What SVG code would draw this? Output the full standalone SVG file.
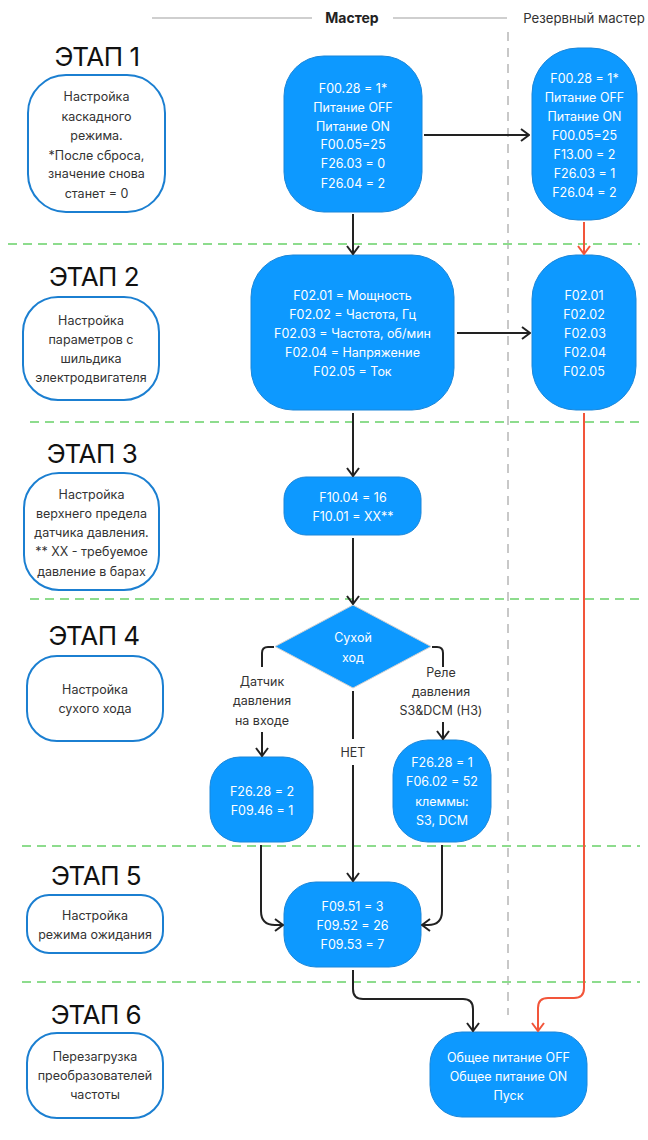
<svg xmlns="http://www.w3.org/2000/svg" width="648" height="1140" viewBox="0 0 648 1140">
<style>
.title{font-family:Inter,"Noto Sans",sans-serif;font-size:26px;fill:#111;text-anchor:middle;letter-spacing:-0.5px}
.lbl{fill:#fff;stroke:#1b7fd1;stroke-width:2}
.lt{font-family:Inter,"Noto Sans",sans-serif;font-size:12.5px;fill:#333;text-anchor:middle}
.box{fill:#0d99ff;stroke:#1a86d9;stroke-width:1}
.bt{font-family:Inter,"Noto Sans",sans-serif;font-size:12.5px;fill:#fff;text-anchor:middle}
.ct{font-family:Inter,"Noto Sans",sans-serif;font-size:12.5px;fill:#333;text-anchor:middle}
.green{stroke:#8ddc8d;stroke-width:2;stroke-dasharray:9 6;fill:none}
.grey{stroke:#c8c8c8;stroke-width:2;stroke-dasharray:9 7;fill:none}
.c{stroke:#222;stroke-width:2;fill:none}
.r{stroke:#f2553a;stroke-width:2;fill:none}
</style>
<defs>
<marker id="ah" viewBox="0 0 10 14" refX="9" refY="7" markerWidth="10" markerHeight="14" markerUnits="userSpaceOnUse" orient="auto">
<path d="M1,1 L9,7 L1,13" fill="none" stroke="#222" stroke-width="2"/>
</marker>
<marker id="ahr" viewBox="0 0 10 14" refX="9" refY="7" markerWidth="10" markerHeight="14" markerUnits="userSpaceOnUse" orient="auto">
<path d="M1,1 L9,7 L1,13" fill="none" stroke="#f2553a" stroke-width="2"/>
</marker>
</defs>
<rect width="648" height="1140" fill="#fff"/>
<g id="header">
<line x1="152" y1="18" x2="312" y2="18" stroke="#cfcfcf" stroke-width="2"/>
<line x1="393" y1="18" x2="507" y2="18" stroke="#cfcfcf" stroke-width="2"/>
<text x="352" y="23" font-family="Inter,'Noto Sans',sans-serif" font-size="14" font-weight="bold" fill="#222" text-anchor="middle">Мастер</text>
<text x="584" y="23" font-family="Inter,'Noto Sans',sans-serif" font-size="13.2" fill="#333" text-anchor="middle">Резервный мастер</text>
</g>
<g id="separators">
<line class="grey" x1="508" y1="32" x2="508" y2="1015"/>
<line class="green" x1="8" y1="244" x2="640" y2="244"/>
<line class="green" x1="30" y1="422" x2="640" y2="422"/>
<line class="green" x1="30" y1="599" x2="640" y2="599"/>
<line class="green" x1="22" y1="846" x2="640" y2="846"/>
<line class="green" x1="22" y1="982" x2="640" y2="982"/>
</g>
<g id="stage1">
<text class="title" x="97" y="66">ЭТАП 1</text>
<rect class="lbl" x="28" y="75" width="137" height="137" rx="38"/>
<text class="lt"><tspan x="96.5" y="101">Настройка</tspan><tspan x="96.5" y="120.5">каскадного</tspan><tspan x="96.5" y="140">режима.</tspan><tspan x="96.5" y="159.5">*После сброса,</tspan><tspan x="96.5" y="178">значение снова</tspan><tspan x="96.5" y="197.5">станет = 0</tspan></text>
</g>
<g id="stage2">
<text class="title" x="94" y="286">ЭТАП 2</text>
<rect class="lbl" x="23" y="297" width="136" height="103" rx="35"/>
<text class="lt"><tspan x="91" y="324.5">Настройка</tspan><tspan x="91" y="343.5">параметров с</tspan><tspan x="91" y="362.5">шильдика</tspan><tspan x="91" y="381.5">электродвигателя</tspan></text>
</g>
<g id="stage3">
<text class="title" x="92" y="463">ЭТАП 3</text>
<rect class="lbl" x="24" y="473" width="135" height="117" rx="35"/>
<text class="lt"><tspan x="91.5" y="498.5">Настройка</tspan><tspan x="91.5" y="517.5">верхнего предела</tspan><tspan x="91.5" y="537">датчика давления.</tspan><tspan x="91.5" y="556">** XX - требуемое</tspan><tspan x="91.5" y="575.5">давление в барах</tspan></text>
</g>
<g id="stage4">
<text class="title" x="94" y="645">ЭТАП 4</text>
<rect class="lbl" x="27" y="656" width="136" height="85" rx="30"/>
<text class="lt"><tspan x="95" y="693.5">Настройка</tspan><tspan x="95" y="713">сухого хода</tspan></text>
</g>
<g id="stage5">
<text class="title" x="96" y="885">ЭТАП 5</text>
<rect class="lbl" x="27" y="895" width="136" height="58" rx="22"/>
<text class="lt"><tspan x="95" y="919.5">Настройка</tspan><tspan x="95" y="938.5">режима ожидания</tspan></text>
</g>
<g id="stage6">
<text class="title" x="96" y="1024">ЭТАП 6</text>
<rect class="lbl" x="27" y="1033" width="136" height="85" rx="30"/>
<text class="lt"><tspan x="95" y="1060.5">Перезагрузка</tspan><tspan x="95" y="1079.5">преобразователей</tspan><tspan x="95" y="1098.5">частоты</tspan></text>
</g>
<g id="m1">
<rect class="box" x="284" y="56" width="138" height="156" rx="40"/>
<text class="bt"><tspan x="353" y="92.5">F00.28 = 1*</tspan><tspan x="353" y="111.5">Питание OFF</tspan><tspan x="353" y="130.5">Питание ON</tspan><tspan x="353" y="149">F00.05=25</tspan><tspan x="353" y="168">F26.03 = 0</tspan><tspan x="353" y="187.5">F26.04 = 2</tspan></text>
</g>
<g id="r1">
<rect class="box" x="532" y="48" width="105" height="172" rx="46"/>
<text class="bt"><tspan x="584.5" y="82.5">F00.28 = 1*</tspan><tspan x="584.5" y="101.5">Питание OFF</tspan><tspan x="584.5" y="120.5">Питание ON</tspan><tspan x="584.5" y="139.5">F00.05=25</tspan><tspan x="584.5" y="158.5">F13.00 = 2</tspan><tspan x="584.5" y="177.5">F26.03 = 1</tspan><tspan x="584.5" y="196.5">F26.04 = 2</tspan></text>
</g>
<g id="m2">
<rect class="box" x="251" y="255" width="203" height="155" rx="42"/>
<text class="bt"><tspan x="352.5" y="299.5">F02.01 = Мощность</tspan><tspan x="352.5" y="318.5">F02.02 = Частота, Гц</tspan><tspan x="352.5" y="337.5">F02.03 = Частота, об/мин</tspan><tspan x="352.5" y="356.5">F02.04 = Напряжение</tspan><tspan x="352.5" y="375.5">F02.05 = Ток</tspan></text>
</g>
<g id="r2">
<rect class="box" x="532" y="255" width="104" height="155" rx="44"/>
<text class="bt"><tspan x="584" y="299.5">F02.01</tspan><tspan x="584" y="318.5">F02.02</tspan><tspan x="585" y="337.5">F02.03</tspan><tspan x="585" y="356.5">F02.04</tspan><tspan x="584" y="375.5">F02.05</tspan></text>
</g>
<g id="m3">
<rect class="box" x="284" y="477" width="137" height="58" rx="22"/>
<text class="bt"><tspan x="353" y="501.5">F10.04 = 16</tspan><tspan x="353" y="521">F10.01 = XX**</tspan></text>
</g>
<g id="d4">
<polygon points="353,605 431,646.5 353,688 275,646.5" fill="#0d99ff" stroke="#d0d0d0" stroke-width="1"/>
<text class="bt"><tspan x="353" y="641.5">Сухой</tspan><tspan x="353" y="661.5">ход</tspan></text>
</g>
<g id="m4a">
<rect class="box" x="210" y="757" width="103" height="85" rx="30"/>
<text class="bt"><tspan x="262" y="795.5">F26.28 = 2</tspan><tspan x="262" y="814.5">F09.46 = 1</tspan></text>
</g>
<g id="m4b">
<rect class="box" x="393" y="740" width="98" height="102" rx="35"/>
<text class="bt"><tspan x="442" y="766.5">F26.28 = 1</tspan><tspan x="442" y="786">F06.02 = 52</tspan><tspan x="442" y="805.5">клеммы:</tspan><tspan x="442" y="825">S3, DCM</tspan></text>
</g>
<g id="m5">
<rect class="box" x="284" y="882" width="137" height="85" rx="32"/>
<text class="bt"><tspan x="352.5" y="910.5">F09.51 = 3</tspan><tspan x="352.5" y="929.5">F09.52 = 26</tspan><tspan x="352.5" y="948.5">F09.53 = 7</tspan></text>
</g>
<g id="m6">
<rect class="box" x="430" y="1032" width="157" height="85" rx="32"/>
<text class="bt"><tspan x="508.5" y="1061.5">Общее питание OFF</tspan><tspan x="508.5" y="1080.5">Общее питание ON</tspan><tspan x="508.5" y="1099.5">Пуск</tspan></text>
</g>
<g id="connectors">
<path class="c" d="M424,135 H529" marker-end="url(#ah)"/>
<path class="c" d="M353,214 V254" marker-end="url(#ah)"/>
<path class="r" d="M584,222 V254" marker-end="url(#ahr)"/>
<path class="c" d="M457,333 H530" marker-end="url(#ah)"/>
<path class="c" d="M353,413 V476" marker-end="url(#ah)"/>
<path class="c" d="M353,538 V604" marker-end="url(#ah)"/>
<path class="c" d="M274,647 H268 Q262,647 262,653 V667"/>
<path class="c" d="M262,732 V756" marker-end="url(#ah)"/>
<text class="ct"><tspan x="262" y="685.5">Датчик</tspan><tspan x="262" y="705">давления</tspan><tspan x="262" y="724.5">на входе</tspan></text>
<path class="c" d="M432,647 H437 Q443,647 443,653 V667"/>
<path class="c" d="M443,722 V739" marker-end="url(#ah)"/>
<text class="ct"><tspan x="441" y="676.5">Реле</tspan><tspan x="441" y="695.5">давления</tspan><tspan x="441" y="715">S3&amp;DCM (НЗ)</tspan></text>
<path class="c" d="M353,691 V739"/>
<text class="ct" x="353" y="756.5">НЕТ</text>
<path class="c" d="M353,765 V881" marker-end="url(#ah)"/>
<path class="c" d="M261,845 V911 Q261,925 275,925 H283" marker-end="url(#ah)"/>
<path class="c" d="M442,845 V911 Q442,925 428,925 H422" marker-end="url(#ah)"/>
<path class="c" d="M353,970 V989 Q353,999 363,999 H463 Q473,999 473,1009 V1031" marker-end="url(#ah)"/>
<path class="r" d="M584,413 V988 Q584,998 574,998 H548 Q538,998 538,1008 V1031" marker-end="url(#ahr)"/>
</g>
</svg>
